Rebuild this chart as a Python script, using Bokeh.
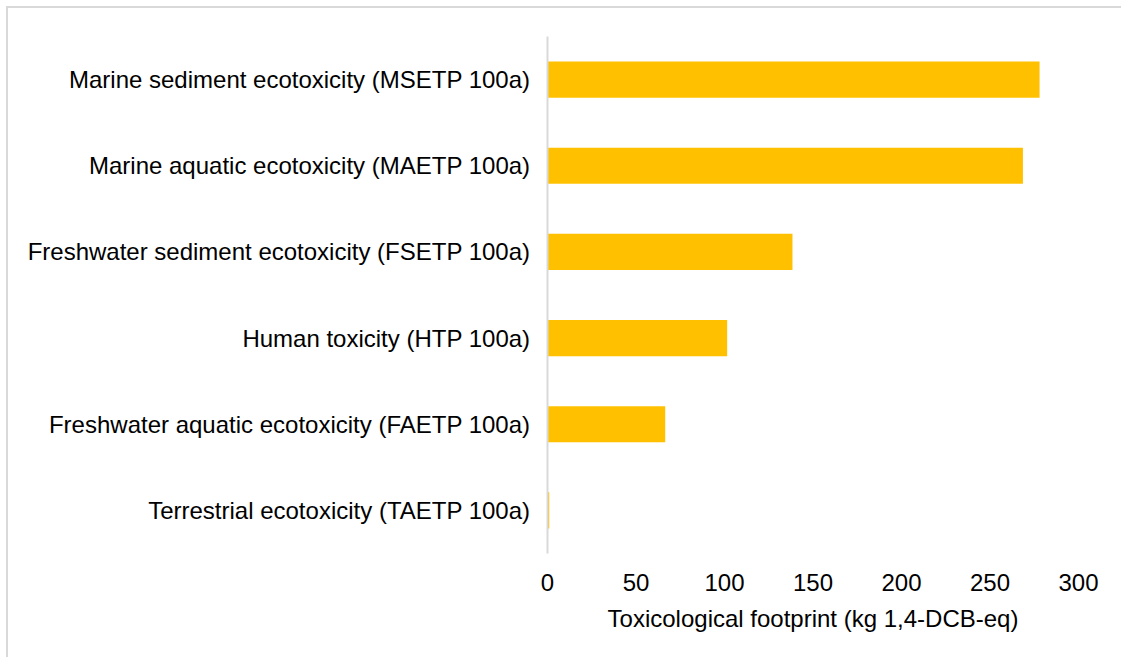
from bokeh.plotting import figure
from bokeh.models import FactorRange, Range1d, FixedTicker
from bokeh.embed import file_html
from bokeh.resources import INLINE

categories = [
    "Terrestrial ecotoxicity (TAETP 100a)",
    "Freshwater aquatic ecotoxicity (FAETP 100a)",
    "Human toxicity (HTP 100a)",
    "Freshwater sediment ecotoxicity (FSETP 100a)",
    "Marine aquatic ecotoxicity (MAETP 100a)",
    "Marine sediment ecotoxicity (MSETP 100a)",
]
values = [1.0, 66.5, 101.5, 138.4, 268.6, 278.0]
x_ticks = [0, 50, 100, 150, 200, 250, 300]
x_title = "Toxicological footprint (kg 1,4-DCB-eq)"

FONT = "Liberation Sans"
FS = "24px"

p = figure(
    width=1115, height=651,
    y_range=FactorRange(factors=categories, range_padding=0),
    x_range=Range1d(0, 300),
    output_backend="svg", toolbar_location=None,
    min_border_left=539, min_border_right=45,
    min_border_top=28, min_border_bottom=106,
)
p.hbar(y=categories, right=values, left=0, height=0.42, color="#FFC000", line_color=None)

p.grid.visible = False
p.outline_line_color = None
p.background_fill_color = "white"
p.border_fill_color = "white"
p.styles = {
    "margin-left": "6px",
    "margin-top": "6px",
    "border-left": "2px solid #d9d9d9",
    "border-top": "2px solid #d9d9d9",
}

xa = p.xaxis[0]
xa.ticker = FixedTicker(ticks=x_ticks)
xa.axis_line_color = None
xa.major_tick_line_color = None
xa.minor_tick_line_color = None
xa.major_label_text_font = FONT
xa.major_label_text_font_size = FS
xa.major_label_text_color = "#000000"
xa.major_label_standoff = 14
xa.axis_label = x_title
xa.axis_label_text_font = FONT
xa.axis_label_text_font_size = FS
xa.axis_label_text_font_style = "normal"
xa.axis_label_text_color = "#000000"
xa.axis_label_standoff = 11

ya = p.yaxis[0]
ya.axis_line_color = "#d9d9d9"
ya.axis_line_width = 2
ya.major_tick_line_color = None
ya.minor_tick_line_color = None
ya.major_label_text_font = FONT
ya.major_label_text_font_size = FS
ya.major_label_text_color = "#000000"
ya.major_label_standoff = 11

open("out.html", "w").write(file_html(p, INLINE))
